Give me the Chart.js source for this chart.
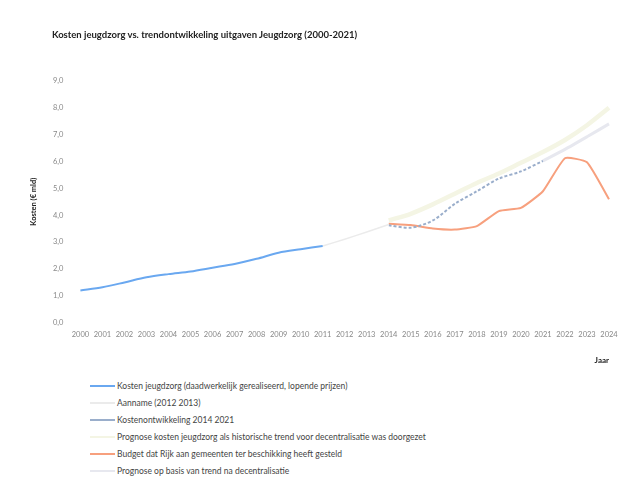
<!DOCTYPE html>
<html>
<head>
<meta charset="utf-8">
<script src="https://cdn.jsdelivr.net/npm/chart.js@4"></script>
<style>
  body { margin: 0; background: #fff; font-family: Lato, "Liberation Sans", sans-serif; }
  #wrap { position: relative; width: 626px; height: 481px; overflow: hidden; }
  #title { position: absolute; left: 52px; top: 29px; font-size: 9.5px; font-weight: bold; color: #222; white-space: nowrap; }
  #box { position: absolute; left: 0; top: 0; width: 626px; height: 373px; }
  #legend { position: absolute; left: 90px; top: 377px; font-size: 8.5px; color: #444; }
  .item { height: 17px; display: flex; align-items: center; white-space: nowrap; }
  .swatch { width: 25px; height: 0; margin-right: 2px; }
</style>
</head>
<body>
<div id="wrap">
  <div id="box"><canvas id="chart"></canvas></div>
  <div id="title">Kosten jeugdzorg vs. trendontwikkeling uitgaven Jeugdzorg (2000-2021)</div>
  <div id="legend"></div>
</div>
<script>
const years = ['2000', '2001', '2002', '2003', '2004', '2005', '2006', '2007', '2008', '2009',
  '2010', '2011', '2012', '2013', '2014', '2015', '2016', '2017', '2018', '2019',
  '2020', '2021', '2022', '2023', '2024'];

const kosten = [1.19, 1.31, 1.49, 1.68, 1.80, 1.90, 2.04, 2.18, 2.37, 2.60, 2.73, 2.85,
  null, null, null, null, null, null, null, null, null, null, null, null, null];
const aanname = [null, null, null, null, null, null, null, null, null, null, null, 2.85,
  3.10, 3.37, 3.65, null, null, null, null, null, null, null, null, null, null];
const kostenontwikkeling = [null, null, null, null, null, null, null, null, null, null, null, null,
  null, null, 3.62, 3.53, 3.80, 4.42, 4.89, 5.36, 5.63, 6.02, null, null, null];
const prognoseHistorisch = [null, null, null, null, null, null, null, null, null, null, null, null,
  null, null, 3.80, 4.05, 4.40, 4.80, 5.20, 5.55, 5.95, 6.35, 6.80, 7.35, 8.00];
const budget = [null, null, null, null, null, null, null, null, null, null, null, null,
  null, null, 3.68, 3.63, 3.50, 3.46, 3.59, 4.15, 4.27, 4.89, 6.12, 5.97, 4.59];
const prognoseNa = [null, null, null, null, null, null, null, null, null, null, null, null,
  null, null, null, null, null, null, null, null, null, 6.02, 6.45, 6.92, 7.40];

const canvas = document.getElementById('chart');

const chart = new Chart(canvas, {
  type: 'line',
  data: {
    labels: years,
    datasets: [
      { label: 'Kosten jeugdzorg (daadwerkelijk gerealiseerd, lopende prijzen)', data: kosten,
        borderColor: '#6aa8f0', borderWidth: 2, tension: 0.3 },
      { label: 'Aanname (2012 2013)', data: aanname,
        borderColor: '#ebebeb', borderWidth: 1.5, tension: 0.2 },
      { label: 'Kostenontwikkeling 2014 2021', data: kostenontwikkeling,
        borderColor: '#9aaecb', borderWidth: 2, borderDash: [3, 2], tension: 0.3 },
      { label: 'Prognose kosten jeugdzorg als historische trend voor decentralisatie was doorgezet', data: prognoseHistorisch,
        borderColor: '#f4f5e4', borderWidth: 4.5, tension: 0.3 },
      { label: 'Budget dat Rijk aan gemeenten ter beschikking heeft gesteld', data: budget,
        borderColor: '#f7a07e', borderWidth: 2, tension: 0.15 },
      { label: 'Prognose op basis van trend na decentralisatie', data: prognoseNa,
        borderColor: '#e7e8ef', borderWidth: 3, tension: 0.2 }
    ]
  },
  options: {
    responsive: true,
    maintainAspectRatio: false,
    animation: false,
    layout: { padding: { top: 81, right: 17, left: 25, bottom: 4 } },
    elements: { point: { radius: 0 } },
    plugins: {
      legend: { display: false },
      tooltip: { enabled: false }
    },
    scales: {
      x: {
        offset: false,
        grid: { display: false },
        border: { display: false },
        ticks: { color: '#888', font: { size: 7.5, family: 'Lato' }, maxRotation: 0, autoSkip: false, padding: 0 },
        title: { display: true, text: 'Jaar', align: 'end', color: '#222',
          font: { size: 8, weight: 'bold', family: 'Lato' }, padding: { top: 16 } }
      },
      y: {
        min: 0,
        max: 9,
        grid: { display: false },
        border: { display: false },
        ticks: { stepSize: 1, color: '#888', font: { size: 7.5, family: 'Lato' }, padding: 9,
          callback: v => v.toFixed(1).replace('.', ',') },
        title: { display: true, text: 'Kosten (€ mld)', color: '#222',
          font: { size: 7.5, weight: 'bold', family: 'Lato' }, padding: { bottom: 6 } }
      }
    }
  }
});

// one legend row per series, like the original
const legend = document.getElementById('legend');
for (const ds of chart.data.datasets) {
  const row = document.createElement('div');
  row.className = 'item';
  const sw = document.createElement('span');
  sw.className = 'swatch';
  sw.style.borderTop = '2px solid ' + ds.borderColor;
  const txt = document.createElement('span');
  txt.textContent = ds.label;
  row.appendChild(sw);
  row.appendChild(txt);
  legend.appendChild(row);
}
</script>
</body>
</html>
